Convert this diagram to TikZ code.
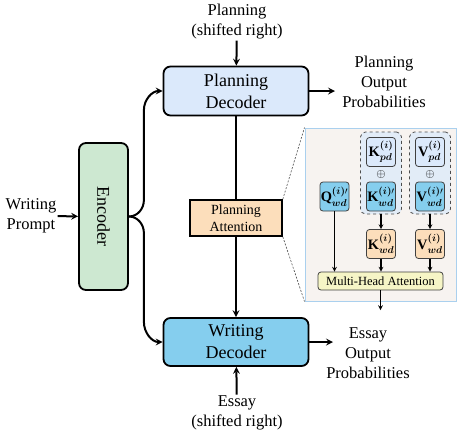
\documentclass[tikz,border=0pt]{standalone}
\usepackage{amsmath,bm}
\usepackage{fontspec}
\setmainfont{Liberation Serif}
\usetikzlibrary{arrows}
\definecolor{pdblue}{RGB}{219,233,251}
\definecolor{wdblue}{RGB}{133,206,238}
\definecolor{encgreen}{RGB}{205,232,209}
\definecolor{attorange}{RGB}{252,222,187}
\definecolor{mhayellow}{RGB}{246,245,198}
\definecolor{panelbg}{RGB}{247,243,240}
\definecolor{panelline}{RGB}{170,208,238}
\definecolor{groupbg}{RGB}{226,236,247}
\tikzset{
  main box/.style={
    draw, 
    line width=1.8pt, 
    rounded corners=7pt, 
    align=center, 
    font=\fontsize{18}{22}\selectfont
  },
  outside label/.style={
    align=center, 
    inner sep=1pt, 
    font=\fontsize{16.5}{20}\selectfont
  },
  main arrow/.style={
    ->, >=stealth, 
    line width=2pt
  },
  inset box/.style={
    draw=black!75, 
    line width=0.8pt, 
    rounded corners=3pt, 
    minimum width=29pt, 
    minimum height=29pt, 
    inner sep=0pt, 
    font=\Large
  },
  inset arrow/.style={
    ->, >=stealth, 
    line width=1.1pt
  },
  group box/.style={
    draw=black!70, 
    dashed, 
    line width=0.8pt, 
    rounded corners=5pt, 
    fill=groupbg, 
    minimum width=41pt, 
    minimum height=82pt
  },
  zoom line/.style={
    draw=black!70, 
    line width=0.6pt, 
    dash pattern=on 2pt off 1.5pt
  }
}

\begin{document}
\begin{tikzpicture}[x=1pt,y=1pt]
\useasboundingbox (0,0) rectangle (464,-440);
% main chain
\node (pdec) at (236,-91) [main box,fill=pdblue,minimum width=145pt,minimum height=49pt] {Planning\\Decoder};
\node (wdec) at (236,-342) [main box,fill=wdblue,minimum width=145pt,minimum height=48pt] {Writing\\Decoder};
\node (enc) at (103.5,-216.5) [main box,fill=encgreen,minimum width=49pt,minimum height=147pt] {\rotatebox{-90}{Encoder}};
\node (patt) at (236,-218) [draw,line width=1.6pt,fill=attorange,minimum width=92pt,minimum height=36pt,inner sep=0pt,align=center,font=\fontsize{14}{16.5}\selectfont] {Planning\\Attention};

\node (plan in) at (237,-22) [outside label] {Planning\\(shifted right)};
\node (essay in) at (237,-413) [outside label] {Essay\\(shifted right)};
\node (prompt) at (31,-216) [outside label] {Writing\\Prompt};
\node (pout) at (384,-82) [outside label] {Planning\\Output\\Probabilities};
\node (eout) at (368,-353) [outside label] {Essay\\Output\\Probabilities};
\coordinate (pout tip) at (335,-91);
\coordinate (eout tip) at (333,-342);

\draw [main arrow] (plan in) -- (pdec);
\draw [main arrow] (essay in) -- (wdec);
\draw [main arrow] (prompt) -- (enc);
\draw [main arrow] (pdec.east) -- (pout tip);
\draw [main arrow] (wdec.east) -- (eout tip);
\draw [line width=2pt] (pdec) -- (patt);
\draw [main arrow] (patt) -- (wdec);
\draw [main arrow] (enc.east)
to [out=0, in=-90] ++(15,16.5)
-- ++(0,90)
to [out=90, in=180] (pdec.west);
\draw [main arrow] (enc.east)
to [out=0, in=90] ++(15,-16.5)
-- ++(0,-89)
to [out=-90, in=180] (wdec.west);

% zoomed attention panel
\node (panel) at (380.5,-214.5) [draw=panelline,line width=1pt,fill=panelbg,minimum width=151pt,minimum height=173pt] {};
\draw [zoom line] (patt.north east) -- (panel.north west);
\draw [zoom line] (patt.south east) -- (panel.south west);
\node (kgrp) at (381,-173) [group box] {};
\node (vgrp) at (430,-173) [group box] {};
\node (kpd) at (381,-152) [inset box,fill=pdblue] {$\mathbf{K}^{\bm{(i)}}_{\bm{pd}}$};
\node (vpd) at (430,-152) [inset box,fill=pdblue] {$\mathbf{V}^{\bm{(i)}}_{\bm{pd}}$};
\node (kplus) at (381,-174) [inner sep=0pt,font=\large] {$\oplus$};
\node (vplus) at (430,-174) [inner sep=0pt,font=\large] {$\oplus$};
\node (kwdp) at (381,-196.5) [inset box,fill=wdblue] {$\mathbf{K}^{\bm{(i)}\prime}_{\bm{wd}}$};
\node (vwdp) at (430,-196.5) [inset box,fill=wdblue] {$\mathbf{V}^{\bm{(i)}\prime}_{\bm{wd}}$};
\node (q) at (334.5,-196.5) [inset box,fill=wdblue] {$\mathbf{Q}^{\bm{(i)}\prime}_{\bm{wd}}$};
\node (kwd) at (381,-244) [inset box,fill=attorange] {$\mathbf{K}^{\bm{(i)}}_{\bm{wd}}$};
\node (vwd) at (430,-244) [inset box,fill=attorange] {$\mathbf{V}^{\bm{(i)}}_{\bm{wd}}$};
\node (mha) at (380.5,-281) [inset box,fill=mhayellow,minimum width=125pt,minimum height=18pt,font=\fontsize{12.5}{14}\selectfont] {Multi-Head Attention};
\coordinate (mha out) at (380.5,-310);

\draw [inset arrow] (kgrp) -- (kwd);
\draw [inset arrow] (vgrp) -- (vwd);
\draw [inset arrow] (q) -- (q |- mha.north);
\draw [inset arrow] (kwd) -- (kwd |- mha.north);
\draw [inset arrow] (vwd) -- (vwd |- mha.north);
\draw [inset arrow] (mha) -- (mha out);
\end{tikzpicture}
\end{document}
